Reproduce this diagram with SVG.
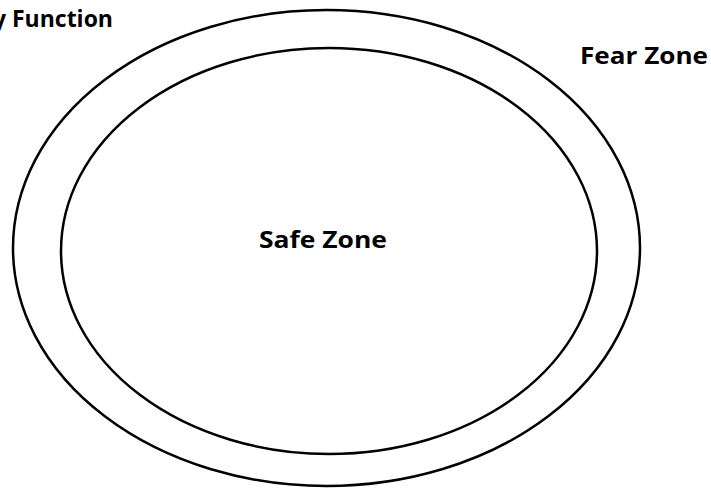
<svg xmlns="http://www.w3.org/2000/svg" width="711" height="488" viewBox="0 0 711 488">
<style>
.ring{fill:none;stroke:#000;stroke-width:2.5}
.lbl{font-family:"Open Sans","Liberation Sans",Arial,sans-serif;font-weight:bold;font-size:23px;fill:#000}
</style>
<rect width="711" height="488" fill="#fff"/>
<g id="fear-zone">
<ellipse class="ring" cx="326.5" cy="248" rx="313.5" ry="238"/>
<text class="lbl" x="580" y="64" textLength="128" lengthAdjust="spacingAndGlyphs">Fear Zone</text>
</g>
<g id="safe-zone">
<ellipse class="ring" cx="329" cy="251" rx="268" ry="203"/>
<text class="lbl" x="259" y="248" textLength="128" lengthAdjust="spacingAndGlyphs">Safe Zone</text>
</g>
<g id="body-function">
<text class="lbl" x="113" y="27" text-anchor="end">y Function</text>
</g>
<g id="connectors"/>
</svg>
